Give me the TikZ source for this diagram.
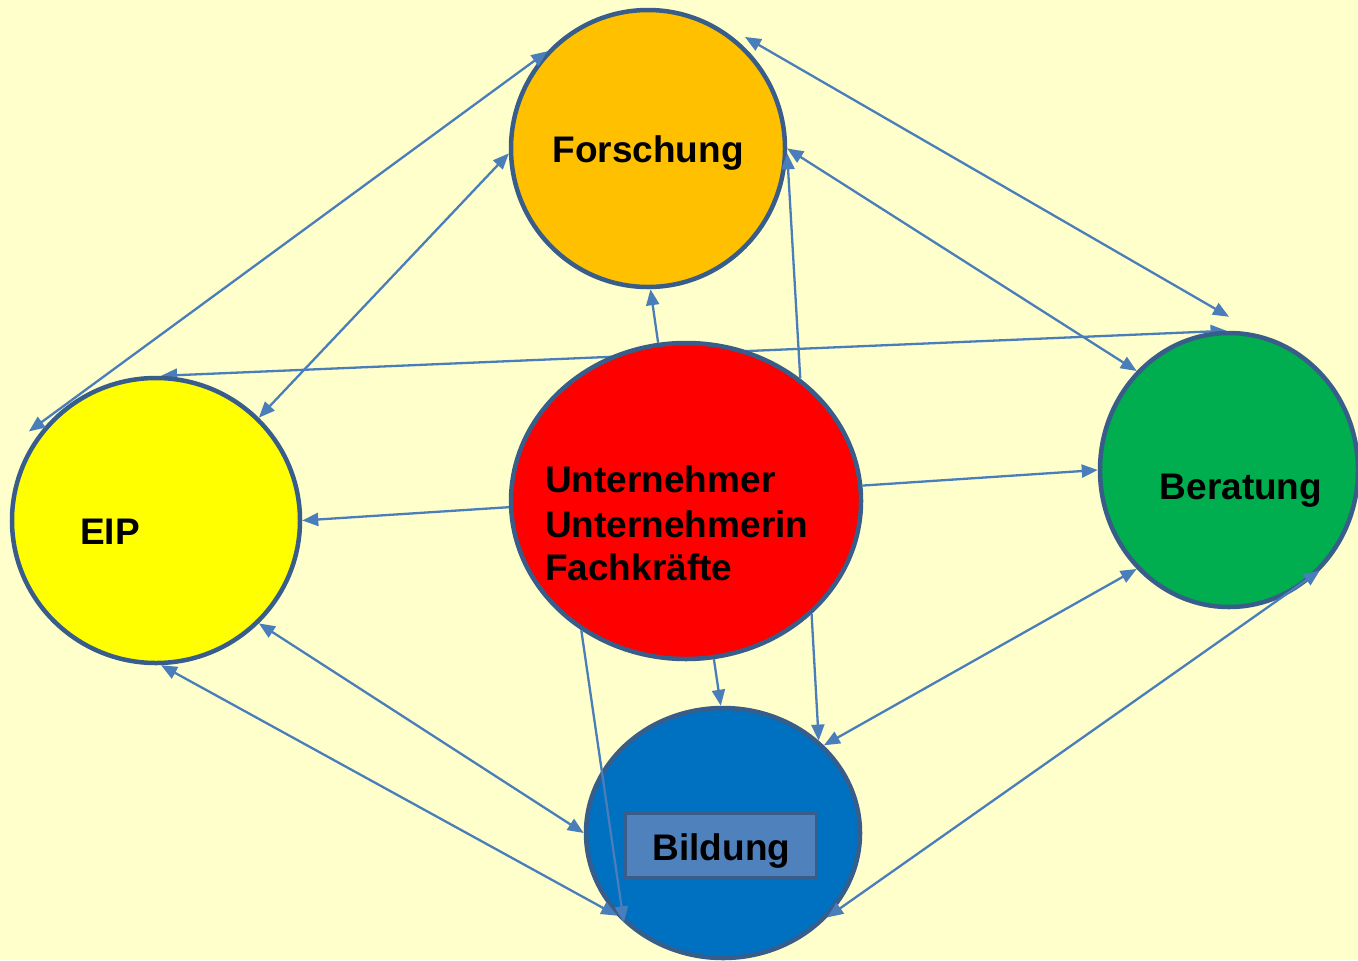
\documentclass[tikz,border=0pt]{standalone}
\usepackage{fontspec}
\setmainfont{Liberation Sans}
\usetikzlibrary{shapes.geometric,arrows.meta,calc}
\definecolor{bgc}{HTML}{FFFFCC}
\definecolor{forc}{HTML}{FFC000}
\definecolor{eipc}{HTML}{FFFF00}
\definecolor{redc}{HTML}{FF0000}
\definecolor{berc}{HTML}{00AD4F}
\definecolor{bilc}{HTML}{0070C0}
\definecolor{rimc}{HTML}{385D8A}
\definecolor{arrc}{HTML}{4A7EBB}
\definecolor{boxc}{HTML}{4F81BD}
\pgfdeclarelayer{behind}
\pgfsetlayers{behind,main}
\begin{document}
\begin{tikzpicture}[x=1bp,y=-1bp,
  blob/.style={ellipse, draw=rimc, line width=4.5bp, inner sep=0pt},
  lbl/.style={inner sep=0pt, font=\fontsize{37bp}{44bp}\selectfont\bfseries, text=black},
  conn/.style={draw=arrc, line width=2.3bp},
  one/.style={conn, -{Triangle[length=16bp,width=13bp]}},
  two/.style={conn, {Triangle[length=16bp,width=13bp]}-{Triangle[length=16bp,width=13bp]}}]
\useasboundingbox (0,0) rectangle (1358,960);

% circles
\node[blob, fill=forc, minimum width=274bp, minimum height=277bp] (F) at (648,148.5) {};
\node[blob, fill=eipc, minimum width=288bp, minimum height=285bp] (E) at (156,520.5) {};
\node[blob, fill=redc, minimum width=350bp, minimum height=316bp] (R) at (686,501) {};
\node[blob, fill=berc, minimum width=258bp, minimum height=274bp] (B) at (1229,470) {};
\node[blob, fill=bilc, minimum width=274bp, minimum height=250bp] (L) at (723,833) {};

% line behind the circles
\begin{pgfonlayer}{behind}
  \fill[bgc] (0,0) rectangle (1358,960);
  \draw[two] (E.88) -- (B.91);
\end{pgfonlayer}

% labels
\node[lbl, anchor=base] (tF) at (648,162) {Forschung};
\node[lbl, anchor=base west] (tE) at (80,544) {EIP};
\node[lbl, anchor=base] (tB) at (1241,499) {Beratung};
\node[lbl, anchor=base west] (tR1) at (545,492) {Unternehmer};
\node[lbl, anchor=base west] (tR2) at (545,537) {Unternehmerin};
\node[lbl, anchor=base west] (tR3) at (545,580) {Fachkräfte};
\node[draw=rimc, line width=3.5bp, fill=boxc, minimum width=191bp, minimum height=64bp, inner sep=0pt] (box) at (721,845.5) {};
\node[lbl, anchor=base] (tL) at (721.5,860) {Bildung};

% connectors
\draw[two] ($(E.center)!1.065!(E.145)$) -- (F.136);
\draw[two] (E.45) -- (F.182);
\draw[one] (R.100) -- (F.271);
\draw[one] (R.47) -- (F.-2);
\draw[two] (F.0) -- (B.133);
\draw[two] ($(F.center)!1.055!(F.49)$) -- ([yshift=14bp]B.north);
\draw[one] (R.5) -- (B.west);
\draw[one] (R.182) -- (E.east);
\draw[two] (E.-45) -- (L.west);
\draw[two] (E.-88) -- (L.218);
\draw[one] (R.231) -- (L.222);
\draw[one] (R.-80) -- (L.91);
\draw[one] (R.-42) -- (L.44);
\draw[two] (L.41) -- (B.227);
\draw[two] (L.-39) -- (B.-48);
\end{tikzpicture}
\end{document}
